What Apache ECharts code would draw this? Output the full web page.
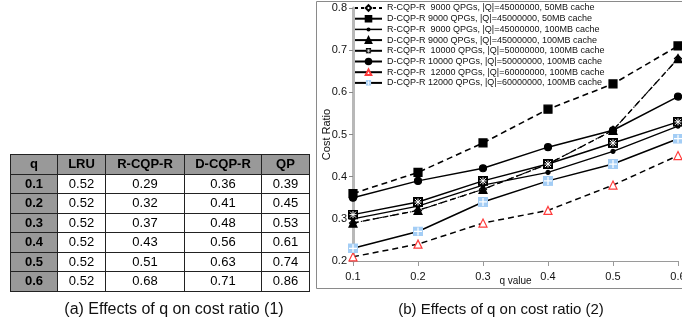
<!DOCTYPE html>
<html>
<head>
<meta charset="utf-8">
<script src="https://cdn.jsdelivr.net/npm/echarts@6/dist/echarts.min.js"></script>
<style>
html,body{margin:0;padding:0;background:#fff;}
#chart{position:absolute;left:0;top:0;width:682px;height:323px;}
#tbl{position:absolute;left:10px;top:154px;border-collapse:collapse;font-family:"Liberation Sans",Arial,sans-serif;font-size:13px;color:#000;}
#tbl td,#tbl th{border:1px solid #222;height:18.5px;padding:0;text-align:center;line-height:18px;}
#tbl th{background:#999;font-weight:bold;}
#tbl td.q{background:#999;font-weight:bold;}
</style>
</head>
<body>
<div id="chart"></div>
<table id="tbl"></table>
<script>
// ---- Table (a) data ----
const tableHeaders = ['q', 'LRU', 'R-CQP-R', 'D-CQP-R', 'QP'];
const tableQ = ['0.1', '0.2', '0.3', '0.4', '0.5', '0.6'];
const tableLRU = ['0.52', '0.52', '0.52', '0.52', '0.52', '0.52'];
const tableRCQPR = ['0.29', '0.32', '0.37', '0.43', '0.51', '0.68'];
const tableDCQPR = ['0.36', '0.41', '0.48', '0.56', '0.63', '0.71'];
const tableQP = ['0.39', '0.45', '0.53', '0.61', '0.74', '0.86'];

// ---- Chart (b) data ----
const qValues = ['0.1', '0.2', '0.3', '0.4', '0.5', '0.6'];
const seriesNames = [
  'R-CQP-R  9000 QPGs, |Q|=45000000, 50MB cache',
  'D-CQP-R 9000 QPGs, |Q|=45000000, 50MB cache',
  'R-CQP-R  9000 QPGs, |Q|=45000000, 100MB cache',
  'D-CQP-R 9000 QPGs, |Q|=45000000, 100MB cache',
  'R-CQP-R  10000 QPGs, |Q|=50000000, 100MB cache',
  'D-CQP-R 10000 QPGs, |Q|=50000000, 100MB cache',
  'R-CQP-R  12000 QPGs, |Q|=60000000, 100MB cache',
  'D-CQP-R 12000 QPGs, |Q|=60000000, 100MB cache'
];
const r9000_50 = [0.29, 0.32, 0.37, 0.43, 0.51, 0.68];
const d9000_50 = [0.36, 0.41, 0.48, 0.56, 0.62, 0.71];
const r9000_100 = [0.30, 0.33, 0.38, 0.41, 0.46, 0.52];
const d9000_100 = [0.29, 0.32, 0.37, 0.43, 0.51, 0.68];
const r10000_100 = [0.31, 0.34, 0.39, 0.43, 0.48, 0.53];
const d10000_100 = [0.35, 0.39, 0.42, 0.47, 0.51, 0.59];
const r12000_100 = [0.21, 0.24, 0.29, 0.32, 0.38, 0.45];
const d12000_100 = [0.23, 0.27, 0.34, 0.39, 0.43, 0.49];
const yTicks = { min: 0.2, max: 0.8, interval: 0.1 };

// build table
(function () {
  const t = document.getElementById('tbl');
  const widths = [46, 47, 78, 76, 47];
  let html = '<tr>' + tableHeaders.map((h, i) => '<th style="width:' + widths[i] + 'px">' + h + '</th>').join('') + '</tr>';
  for (let i = 0; i < tableQ.length; i++) {
    html += '<tr><td class="q">' + tableQ[i] + '</td><td>' + tableLRU[i] + '</td><td>' + tableRCQPR[i] +
      '</td><td>' + tableDCQPR[i] + '</td><td>' + tableQP[i] + '</td></tr>';
  }
  t.innerHTML = html;
})();

function svgSym(svg) {
  return 'image://data:image/svg+xml;utf8,' + encodeURIComponent(svg);
}
const xSquare = svgSym("<svg xmlns='http://www.w3.org/2000/svg' width='20' height='20'><rect width='20' height='20' fill='black'/><path d='M4,4L16,16M16,4L4,16M10,3V17M3,10H17' stroke='white' stroke-width='2'/></svg>");
const bluePlus = svgSym("<svg xmlns='http://www.w3.org/2000/svg' width='20' height='20'><rect width='20' height='20' fill='#a3cdf5'/><path d='M10,2V18M2,10H18' stroke='white' stroke-width='2.5'/></svg>");

const dashed = [6, 4];
const seriesDefs = [
  { data: r9000_50, symbol: 'diamond', symbolSize: 7, color: '#000', fill: '#fff', line: dashed, width: 1.3 },
  { data: d9000_50, symbol: 'rect', symbolSize: 8, color: '#000', fill: '#000', line: dashed, width: 1.6 },
  { data: r9000_100, symbol: 'circle', symbolSize: 4, color: '#000', fill: '#000', line: 'solid', width: 1.3 },
  { data: d9000_100, symbol: 'triangle', symbolSize: 8, color: '#000', fill: '#000', line: [5, 3, 1.5, 3], width: 1.1 },
  { data: r10000_100, symbol: xSquare, symbolSize: 10, color: '#000', fill: '#000', line: 'solid', width: 1.5 },
  { data: d10000_100, symbol: 'circle', symbolSize: 7, color: '#000', fill: '#000', line: 'solid', width: 1.5 },
  { data: r12000_100, symbol: 'triangle', symbolSize: 8, color: '#ff3b3b', fill: '#fff', line: dashed, width: 1.5, lineColor: '#000' },
  { data: d12000_100, symbol: bluePlus, symbolSize: 10, color: '#a3cdf5', fill: '#a3cdf5', line: 'solid', width: 1.5, lineColor: '#000' }
];

const series = seriesDefs.map((d, i) => ({
  name: seriesNames[i],
  type: 'line',
  data: d.data,
  symbol: d.symbol,
  symbolSize: d.symbolSize,
  showAllSymbol: true,
  animation: false,
  itemStyle: { color: d.fill, borderColor: d.color, borderWidth: 1.2 },
  lineStyle: { color: d.lineColor || '#000', type: d.line, width: d.width },
  z: 2 + i
}));

// legend icon for small-dot series (line + small dot)
const dotLegendIcon = svgSym("<svg xmlns='http://www.w3.org/2000/svg' width='27' height='7'><line x1='0' y1='3.5' x2='27' y2='3.5' stroke='black' stroke-width='1.5'/><circle cx='13.5' cy='3.5' r='2' fill='black'/></svg>");

const chart = echarts.init(document.getElementById('chart'));
chart.setOption({
  backgroundColor: '#fff',
  animation: false,
  textStyle: { fontFamily: '"Liberation Sans", Arial, sans-serif' },
  grid: { left: 353, right: 4, top: 8, bottom: 62, containLabel: false, outerBoundsMode: 'none' },
  legend: {
    orient: 'vertical',
    left: 354,
    top: 3,
    padding: 0,
    itemWidth: 27,
    itemHeight: 7,
    itemGap: 0.7,
    textStyle: { fontSize: 9, lineHeight: 10, color: '#111', fontFamily: '"Liberation Sans", Arial, sans-serif' },
    data: seriesNames.map((n, i) => {
      if (i === 2) return { name: n, icon: dotLegendIcon };
      return { name: n, lineStyle: i === 0 ? { type: [3, 3] } : { type: 'solid' } };
    })
  },
  xAxis: {
    type: 'category',
    data: qValues,
    boundaryGap: false,
    name: 'q value',
    nameLocation: 'middle',
    nameGap: 15,
    nameMoveOverlap: false,
    nameTextStyle: { fontSize: 10, color: '#111' },
    axisLine: { lineStyle: { color: '#9a9a9a', width: 1 } },
    axisTick: { show: true, length: 5, lineStyle: { color: '#9a9a9a' } },
    axisLabel: { fontSize: 11, color: '#111', margin: 10, hideOverlap: false },
    splitLine: { show: false }
  },
  yAxis: {
    type: 'value',
    min: yTicks.min,
    max: yTicks.max,
    interval: yTicks.interval,
    name: 'Cost Ratio',
    nameLocation: 'middle',
    nameGap: 21,
    nameMoveOverlap: false,
    nameTextStyle: { fontSize: 11, color: '#111' },
    axisLine: { show: true, lineStyle: { color: '#b8b8b8', width: 3 } },
    axisTick: { show: true, length: 4, lineStyle: { color: '#888' } },
    axisLabel: { fontSize: 11, color: '#111', margin: 6, formatter: v => v.toFixed(1) },
    splitLine: { show: false }
  },
  graphic: [
    { type: 'rect', shape: { x: 316.5, y: 1.5, width: 400, height: 287 }, style: { fill: 'none', stroke: '#8a8a8a', lineWidth: 1 }, z: 0, silent: true },
    { type: 'text', style: { text: '(a) Effects of q on cost ratio (1)', x: 174, y: 310, align: 'center', verticalAlign: 'middle', fontSize: 16, fill: '#111', fontFamily: '"Liberation Sans", Arial, sans-serif' } },
    { type: 'text', style: { text: '(b) Effects of q on cost ratio (2)', x: 501, y: 310, align: 'center', verticalAlign: 'middle', fontSize: 15, fill: '#111', fontFamily: '"Liberation Sans", Arial, sans-serif' } }
  ],
  series: series
});
</script>
</body>
</html>
